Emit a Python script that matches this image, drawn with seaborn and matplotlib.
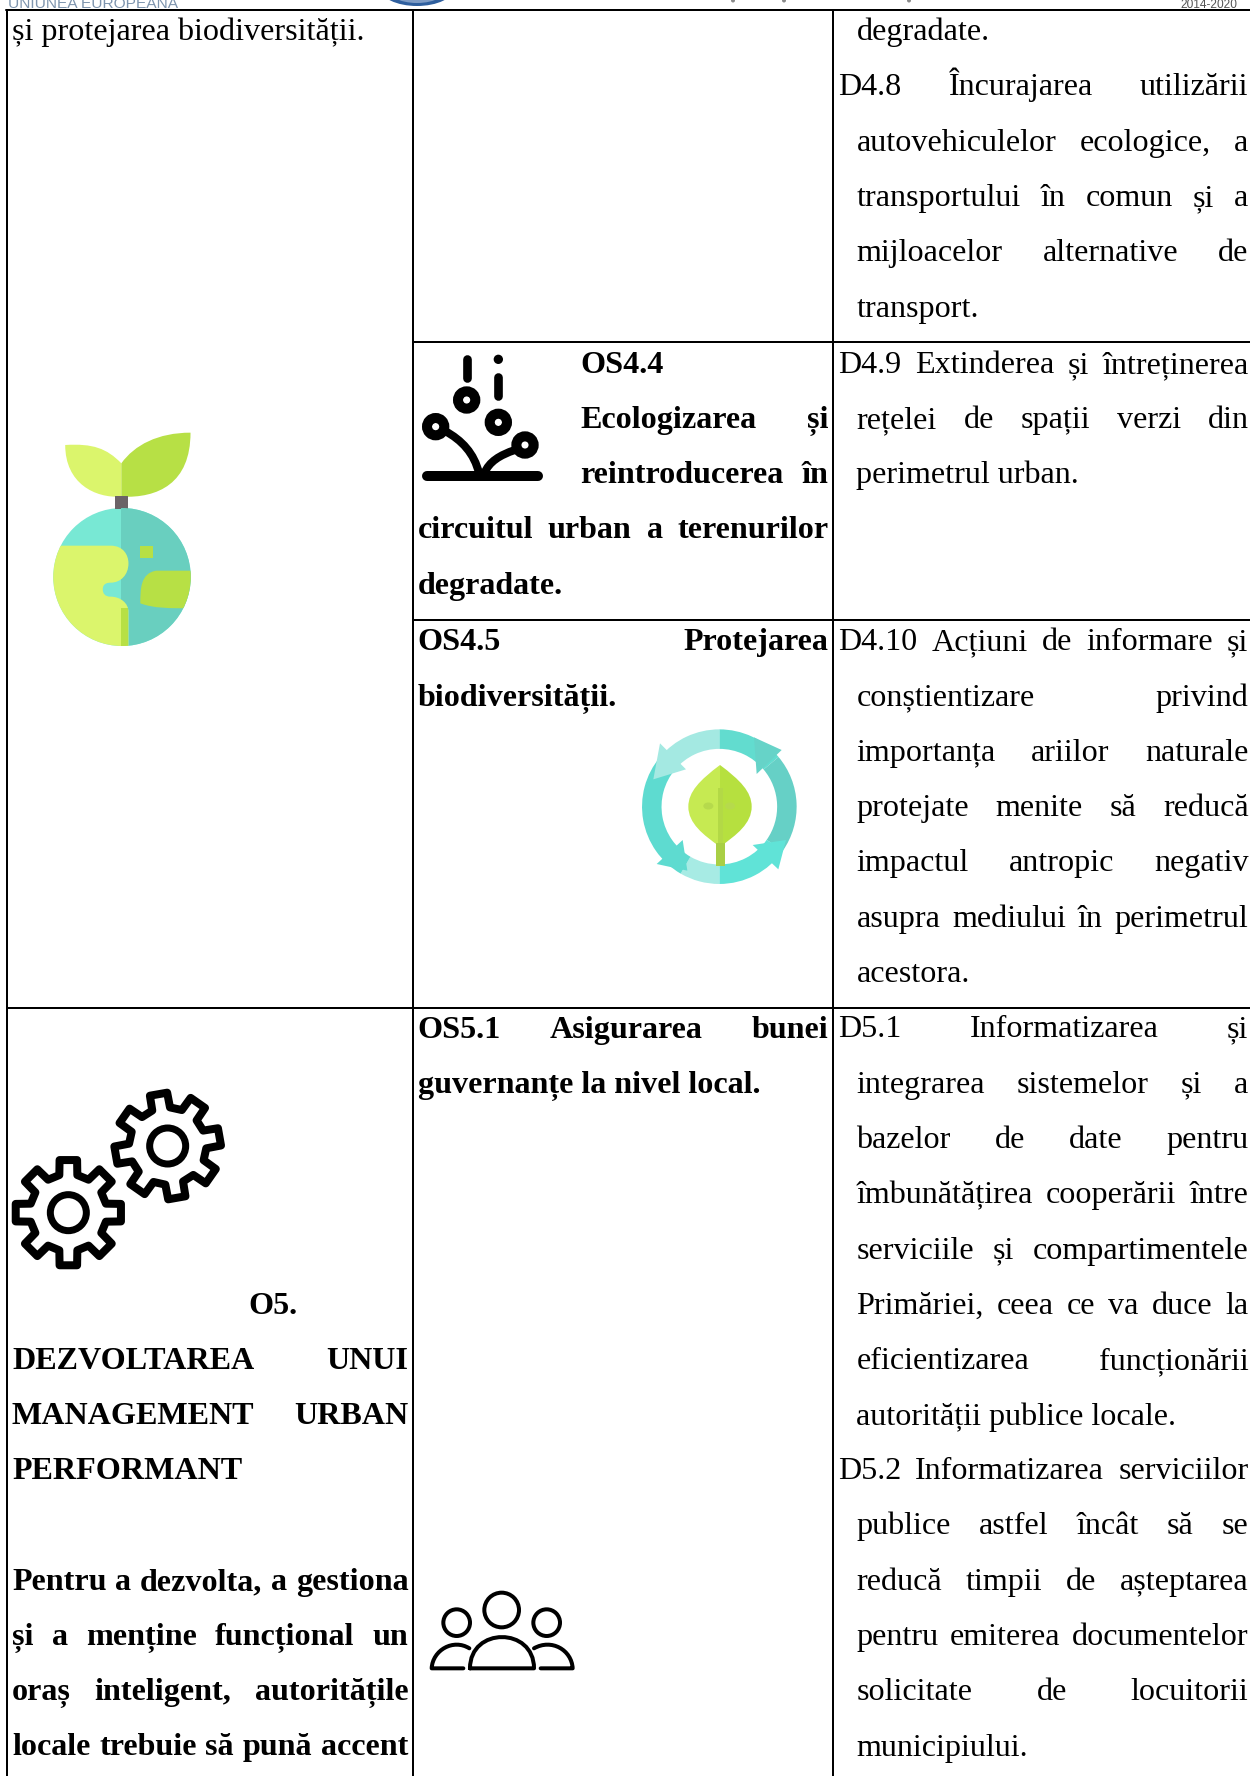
import numpy as np
import pandas as pd
import matplotlib
matplotlib.use("Agg")
import matplotlib.pyplot as plt
import seaborn as sns
from matplotlib.patches import Circle, Ellipse, Polygon, Wedge, PathPatch
from matplotlib.path import Path
from matplotlib.font_manager import FontProperties

# ---------- content ----------
col1_top = ["și protejarea biodiversității."]
col1_title = ["O5.", "DEZVOLTAREA UNUI", "MANAGEMENT URBAN", "PERFORMANT"]
col1_body = ["Pentru a dezvolta, a gestiona", "și a menține funcțional un",
             "oraș inteligent, autoritățile", "locale trebuie să pună accent"]
os44 = ["OS4.4", "Ecologizarea și", "reintroducerea în",
        "circuitul urban a terenurilor", "degradate."]
os45 = ["OS4.5 Protejarea", "biodiversității."]
os51 = ["OS5.1 Asigurarea bunei", "guvernanțe la nivel local."]
d47_end = ["degradate."]
d48 = ["D4.8 Încurajarea utilizării", "autovehiculelor ecologice, a",
       "transportului în comun și a", "mijloacelor alternative de", "transport."]
d49 = ["D4.9 Extinderea și întreținerea", "rețelei de spații verzi din",
       "perimetrul urban."]
d410 = ["D4.10 Acțiuni de informare și", "conștientizare privind",
        "importanța ariilor naturale", "protejate menite să reducă",
        "impactul antropic negativ", "asupra mediului în perimetrul", "acestora."]
d51 = ["D5.1 Informatizarea și", "integrarea sistemelor și a",
       "bazelor de date pentru", "îmbunătățirea cooperării între",
       "serviciile și compartimentele", "Primăriei, ceea ce va duce la",
       "eficientizarea funcționării", "autorității publice locale."]
d52 = ["D5.2 Informatizarea serviciilor", "publice astfel încât să se",
       "reducă timpii de așteptarea", "pentru emiterea documentelor",
       "solicitate de locuitorii", "municipiului."]
header_left = ["UNIUNEA EUROPEANA"]
header_right = ["2014-2020"]
unjustified = ["transport.", "perimetrul urban.", "acestora.",
               "autorității publice locale.", "municipiului."]

# ---------- canvas ----------
sns.set_theme(style="white")
plt.rcParams["font.family"] = ["Liberation Serif", "DejaVu Serif"]
W, H = 1250, 1776
fig = plt.figure(figsize=(W / 100, H / 100), dpi=100, facecolor="white")
ax = fig.add_axes([0, 0, 1, 1])
ax.set_xlim(0, W)
ax.set_ylim(H, 0)
ax.axis("off")
rend = fig.canvas.get_renderer()

FS = 23.1
S = 1.1322
OFFS = 9.3 * S


def base(center):
    return center * S + OFFS


def width(word, fp):
    return rend.get_text_width_height_descent(word, fp, False)[0]


def put(line, x0, y, bold=False, x1=None):
    fp = FontProperties(family="Liberation Serif", size=FS, weight="bold" if bold else "normal")
    words = line.split(" ")
    if x1 is None or len(words) == 1:
        ax.text(x0, y, line, fontproperties=fp, color="black", ha="left", va="baseline")
        return
    ws = [width(w, fp) for w in words]
    gap = (x1 - x0 - sum(ws)) / (len(words) - 1)
    x = x0
    for w, wd in zip(words, ws):
        ax.text(x, y, w, fontproperties=fp, color="black", ha="left", va="baseline")
        x += wd + gap


C1L, C1R = 12, 408.5
C2L, C2R = 417.5, 828.5
C2I = 580.5
C3L, C3I, C3R = 838, 856.5, 1248.5

# column 1
put(col1_top[0], C1L, base(26))
put(col1_title[0], 248, base(1151), True)
put(col1_title[1], C1L, base(1199.5), True, C1R)
put(col1_title[2], C1L, base(1248.5), True, C1R)
put(col1_title[3], C1L, base(1297), True)
for i, c in enumerate([1395, 1444, 1492.5, 1541]):
    put(col1_body[i], C1L, base(c), True, C1R)

# column 2
put(os44[0], C2I, base(320), True)
put(os44[1], C2I, base(368.5), True, C2R)
put(os44[2], C2I, base(417.5), True, C2R)
put(os44[3], C2L, base(466), True, C2R)
put(os44[4], C2L, base(515), True)
put(os45[0], C2L, base(565), True, C2R)
put(os45[1], C2L, base(614), True)
put(os51[0], C2L, base(907.5), True, C2R)
put(os51[1], C2L, base(956), True)


# column 3
def block(lines, start, lead=48.85):
    for i, ln in enumerate(lines):
        c = start + i * lead
        x0 = C3L if i == 0 else C3I
        put(ln, x0, base(c), False, None if ln in unjustified else C3R)


put(d47_end[0], C3I, base(26))
block(d48, 75)
block(d49, 320)
block(d410, 565)
block(d51, 907)
block(d52, 1297)

# ---------- table rules ----------
rule_rows = []
for k, (xa, ya, xb, yb) in enumerate([
    (6, 10, 1250, 10), (413, 342, 1250, 342), (413, 620, 1250, 620), (7, 1008, 1250, 1008),
    (7, 10, 7, H), (413, 10, 413, H), (833, 10, 833, H),
]):
    rule_rows += [dict(rule=k, x=xa, y=ya), dict(rule=k, x=xb, y=yb)]
rules = pd.DataFrame(rule_rows)
sns.lineplot(data=rules, x="x", y="y", units="rule", estimator=None, sort=False,
             color="black", lw=1.44, ax=ax, legend=False)
ax.set_xlim(0, W)
ax.set_ylim(H, 0)
ax.axis("off")

# ---------- header scraps, cut by the page edge ----------
ax.text(8, 7.5, header_left[0], fontsize=11.15, family="Liberation Sans", color="#7f95ae",
        ha="left", va="baseline")
ax.add_patch(Ellipse((417, -12), 74, 36, fc="#2f5f9e", ec="none"))
ax.add_patch(Ellipse((417, -14), 64, 34, fc="#7f9cc4", ec="none"))
ax.text(1180, 8.5, header_right[0], fontsize=8.6, family="Liberation Sans", color="#555555",
        ha="left", va="baseline")
for mx in [733, 784, 909]:
    ax.add_patch(Ellipse((mx, 0.5), 4, 4, fc="#8a8a8a", ec="none"))


# ---------- icons ----------
def mapper(x0, y0, sx, sy):
    return lambda pts: [(x0 + p[0] / sx, y0 + p[1] / sy) for p in pts]


def poly(pts, color, clip=None, z=3):
    p = Polygon(pts, closed=True, fc=color, ec="none", zorder=z)
    ax.add_patch(p)
    if clip is not None:
        p.set_clip_path(clip)
    return p


def curve(verts, codes, color, clip=None, z=3):
    p = PathPatch(Path(verts, codes), fc=color, ec="none", zorder=z)
    ax.add_patch(p)
    if clip is not None:
        p.set_clip_path(clip)
    return p


M, L, C3 = Path.MOVETO, Path.LINETO, Path.CURVE4

# earth with sprout
e = mapper(0, 400, 2.53, 3)
curve(e([(165, 135), (235, 130), (270, 145), (307, 190), (307, 290), (240, 295), (165, 250), (165, 135)]),
      [M, C3, C3, C3, L, C3, C3, C3], "#dbf56c")
curve(e([(482, 98), (400, 98), (340, 135), (307, 190), (307, 290), (400, 295), (482, 250), (482, 98)]),
      [M, C3, C3, C3, L, C3, C3, C3], "#b7e045")
poly(e([(290, 288), (325, 288), (325, 326), (290, 326)]), "#6b6367")
globe = Ellipse((122, 577), 137.5, 138, fc="#78e8d4", ec="none", zorder=2)
ax.add_patch(globe)
poly(e([(307, 300), (500, 300), (500, 760), (307, 760)]), "#69cfbf", clip=globe)
land = e([(120, 437), (280, 437),
          (312, 437), (325, 465), (325, 490),
          (325, 525), (305, 548), (280, 548),
          (262, 548), (260, 560), (260, 568),
          (260, 580), (265, 590), (280, 590),
          (305, 590), (325, 610), (325, 635),
          (325, 760), (120, 760), (120, 437)])
curve(land, [M, L] + [C3] * 15 + [L, L, L], "#dbf56c", clip=globe)
poly(e([(307, 625), (325, 625), (325, 760), (307, 760)]), "#b7e045", clip=globe, z=4)
poly(e([(355, 437), (387, 437), (387, 474), (355, 474)]), "#b7e045", z=4)
rl = e([(500, 512), (395, 512), (355, 520), (355, 568), (355, 610), (390, 625), (420, 625), (500, 625), (500, 512)])
curve(rl, [M, L, C3, C3, C3, C3, C3, C3, L], "#b7e045", clip=globe, z=4)

# recycling ring with a leaf
r = mapper(600, 700, 3, 3)
cx, cy = r([(358, 320)])[0]
# angles run clockwise on screen, from the right, as the y axis points down
ring = [(270, 320, "#62dccf"), (320, 395, "#66d0c6"), (35, 90, "#60e3d7"), (90, 120, "#a7ebe4"),
        (120, 220, "#5edbd0"), (220, 270, "#a4e9e2")]
for a, b, col in ring:
    ax.add_patch(Wedge((cx, cy), 77.3, a, b, width=19.5, fc=col, ec="none", zorder=2))
poly(r([(545, 150), (462, 112), (470, 222)]), "#66d3c8")
poly(r([(180, 130), (258, 208), (160, 238)]), "#a4e9e2")
poly(r([(170, 492), (248, 420), (262, 512)]), "#5edbd0")
poly(r([(535, 508), (458, 435), (558, 420)]), "#60e3d7")
curve(r([(360, 195), (300, 240), (265, 275), (265, 320), (265, 370), (310, 405), (360, 440)]),
      [M, C3, C3, C3, C3, C3, C3], "#c6ea52")
curve(r([(360, 195), (420, 240), (455, 275), (455, 320), (455, 370), (410, 405), (360, 440)]),
      [M, C3, C3, C3, C3, C3, C3], "#b6e03f")
poly(r([(348, 430), (375, 430), (375, 497), (348, 497)]), "#a9cf45")
for px, py in [(325, 318), (390, 318)]:
    ax.add_patch(Ellipse(r([(px, py)])[0], 10, 7, fc="#b6da4c", ec="none", zorder=4))
poly(r([(353, 265), (368, 265), (368, 430), (353, 430)]), "#b3d946", z=4)


def zlw(zpx, scale=3):
    return zpx / scale * 0.72


def stroke(pts, w, scale=3, codes=None, cap="round"):
    ax.add_patch(PathPatch(Path(pts, codes), fc="none", ec="black", lw=zlw(w, scale), capstyle=cap,
                           joinstyle="round", zorder=3))


# falling seeds
s = mapper(415, 345, 3, 3)
stroke(s([(35, 392), (370, 392)]), 30)
stroke(s([(155, 42), (155, 100)]), 26)
stroke(s([(250, 97), (250, 152)]), 26)
ax.add_patch(Circle(s([(250, 43)])[0], 14 / 3, fc="black", ec="none", zorder=3))
for px, py in [(155, 165), (250, 232), (62, 245), (330, 300)]:
    ax.add_patch(Circle(s([(px, py)])[0], 26 / 3, fc="none", ec="black", lw=zlw(30), zorder=3))
stroke(s([(90, 258), (140, 285), (178, 325), (192, 385)]), 24, codes=[M, C3, C3, C3], cap="butt")
stroke(s([(300, 315), (255, 330), (222, 350), (208, 385)]), 24, codes=[M, C3, C3, C3], cap="butt")

# gears
g = mapper(0, 1060, 3, 3)


def gear(cx_, cy_, rot):
    n = 8
    ro, rr = 160 / 3, 116 / 3
    pts = []
    for k in range(n):
        a = rot + k * 2 * np.pi / n
        hw_o, hw_r = 0.165, 0.235
        pts += [(rr, a - hw_r), (ro, a - hw_o), (ro, a + hw_o), (rr, a + hw_r)]
    xy = [(cx_ + q_ * np.cos(t), cy_ + q_ * np.sin(t)) for q_, t in pts]
    ax.add_patch(Polygon(xy, closed=True, fc="none", ec="black", lw=zlw(24), joinstyle="round", zorder=3))
    ax.add_patch(Circle((cx_, cy_), 54 / 3, fc="none", ec="black", lw=zlw(21), zorder=3))


gear(*g([(205, 458)])[0], 0)
gear(*g([(503, 258)])[0], np.deg2rad(-10))

# people
q = mapper(410, 1570, 3, 3)
for px, py, rad in [(275, 120, 52), (140, 158, 40), (410, 158, 40)]:
    ax.add_patch(Circle(q([(px, py)])[0], rad / 3, fc="none", ec="black", lw=zlw(12), zorder=3))
stroke(q([(180, 295), (180, 170), (372, 170), (372, 295), (180, 295)]), 12, codes=[M, C3, C3, C3, L])
stroke(q([(160, 295), (65, 295), (68, 240), (130, 205), (178, 235)]), 12, codes=[M, L, C3, C3, C3])
stroke(q([(392, 295), (488, 295), (485, 240), (425, 205), (372, 235)]), 12, codes=[M, L, C3, C3, C3])

fig.savefig("out.png", dpi=100, facecolor="white")
